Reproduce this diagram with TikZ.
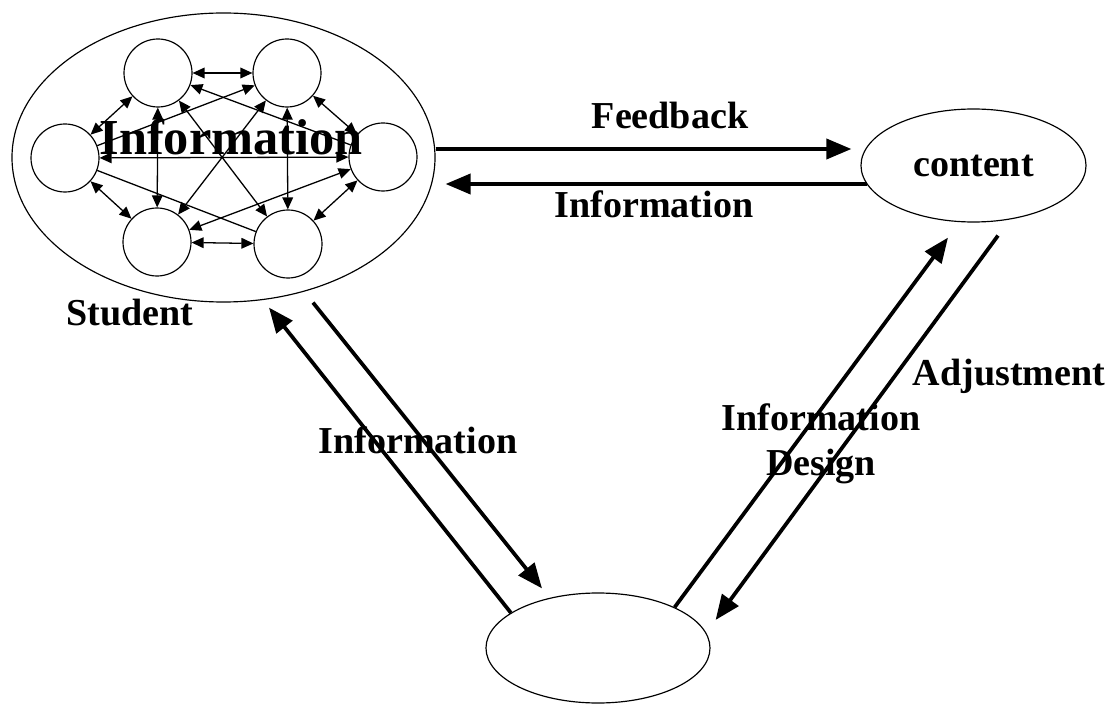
\documentclass[tikz,border=0pt]{standalone}
\usepackage{fontspec}
\setmainfont{Liberation Serif}
\usetikzlibrary{arrows.meta,shapes.geometric}
\newcommand{\figfont}{\bfseries\fontsize{32.5}{38.4}\selectfont}

\begin{document}
\begin{tikzpicture}[x=0.03cm,y=-0.03cm,
            lbl/.style={font=\figfont,anchor=base,inner sep=0pt},
            member/.style={draw,circle,line width=1pt,minimum size=2.04cm,inner sep=0pt},
            body/.style={draw,ellipse,line width=1pt,inner sep=0pt},
            link/.style={line width=1.1pt,{Triangle[length=0.36cm,width=0.32cm]}-{Triangle[length=0.36cm,width=0.32cm]}},
            onelink/.style={line width=1.1pt,-{Triangle[length=0.36cm,width=0.32cm]}},
            flow/.style={line width=3.2pt,-{Triangle[length=0.75cm,width=0.6cm]}}]
            \useasboundingbox (0,0) rectangle (1113,704);
            \node[body,minimum width=12.69cm,minimum height=8.67cm] (student) at (223.5,157.5) {};
            \node[member] (tl) at (158,73) {};
            \node[member] (tr) at (287,73) {};
            \node[member] (l) at (65,158) {};
            \node[member] (r) at (383,157) {};
            \node[member] (bl) at (157,242) {};
            \node[member] (br) at (288,244) {};
            \draw[link] (tl) -- (tr);
            \draw[link] (bl) -- (br);
            \draw[link] (l) -- (tl);
            \draw[link] (l) -- (bl);
            \draw[link] (tr) -- (r);
            \draw[link] (r) -- (br);
            \draw[link] (l) -- (r);
            \draw[link] (tl) -- (bl);
            \draw[link] (tr) -- (br);
            \draw[link] (tl) -- (br);
            \draw[link] (tr) -- (bl);
            \draw[link] (r) -- (bl);
            \draw[onelink] (l) -- (tr);
            \draw[onelink] (r) -- (tl);
            \draw[line width=1.1pt] (l) -- (br);
            \node[lbl,font=\bfseries\fontsize{43}{50}\selectfont] (groupinfo) at (231,155) {Information};
            \node[body,minimum width=6.75cm,minimum height=3.39cm,font=\figfont] (content) at (973.5,165.5) {content};
            \node[body,minimum width=6.72cm,minimum height=3.3cm] (bottom) at (598,648) {};
            \draw[flow] ([shift={(0,-8.5)}]student.east) -- ([shift={(-9,-16.5)}]content.west);
            \draw[flow] ([shift={(7,18.5)}]content.west) -- ([shift={(10,26.5)}]student.east);
            \draw[flow] (bottom.158) -- ([shift={(45.5,5)}]student.south);
            \draw[flow] ([shift={(89.5,0)}]student.south) -- ([shift={(-56,-4)}]bottom.north);
            \draw[flow] (bottom.28) -- ([shift={(-25.5,15)}]content.south);
            \draw[flow] ([shift={(24.5,13)}]content.south) -- ([shift={(5,-28)}]bottom.east);
            \node[lbl] (feedback) at (670,129) {Feedback};
            \node[lbl] (backinfo) at (654,218) {Information};
            \node[lbl] (studentlbl) at (130,325) {Student};
            \node[lbl] (leftinfo) at (418,453) {Information};
            \node[lbl] (adjust) at (1009,385) {Adjustment};
            \node[lbl,anchor=center,align=center] (design) at (821,444) {Information\\Design};
        \end{tikzpicture}
\end{document}
